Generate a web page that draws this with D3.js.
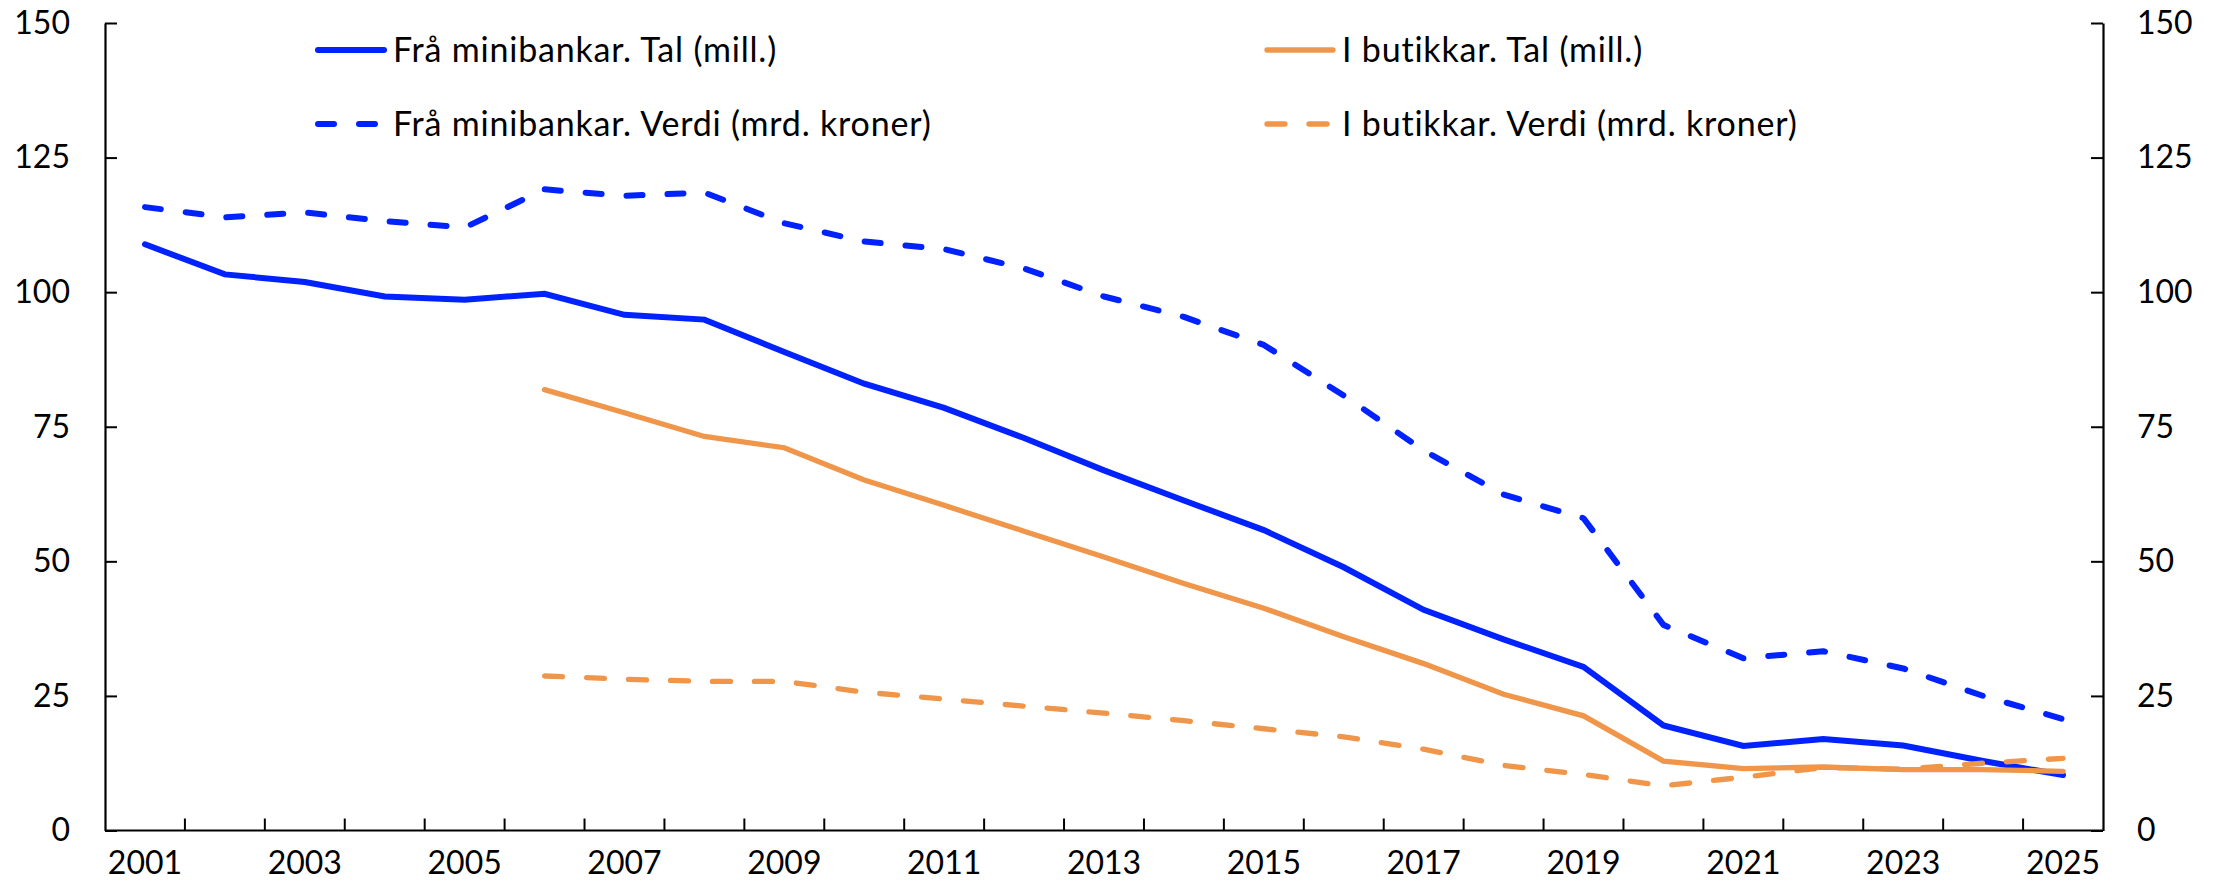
<!DOCTYPE html>
<html>
<head>
<meta charset="utf-8">
<script src="https://cdn.jsdelivr.net/npm/d3@7"></script>
<style>
  html, body { margin: 0; padding: 0; background: #fff; }
  svg { display: block; font-family: Lato, "Open Sans", sans-serif; }
</style>
</head>
<body>
<svg id="chart" width="2227" height="895"></svg>
<script>
// ---- Data ----
const years = [2001,2002,2003,2004,2005,2006,2007,2008,2009,2010,2011,2012,2013,2014,2015,2016,2017,2018,2019,2020,2021,2022,2023,2024,2025];
const atmCount   = [108.9,103.3,101.9,99.2,98.6,99.7,95.8,94.9,88.9,83.0,78.5,72.9,66.9,61.3,55.8,48.9,41.0,35.5,30.4,19.5,15.7,17.0,15.8,12.9,10.3];
const atmValue   = [115.8,113.9,114.8,113.2,112.0,119.1,117.9,118.5,112.8,109.4,108.0,104.4,99.2,95.4,90.2,80.8,70.6,62.4,58.0,38.2,32.0,33.3,30.1,25.0,20.7];
const storeCount = [null,null,null,null,null,81.9,77.6,73.2,71.1,65.1,60.4,55.6,50.8,45.9,41.3,36.0,31.0,25.3,21.3,12.9,11.5,11.8,11.3,11.3,11.0];
const storeValue = [null,null,null,null,null,28.7,28.1,27.7,27.7,25.7,24.4,23.1,21.8,20.4,18.9,17.4,15.1,12.1,10.4,8.3,9.9,11.7,11.4,12.5,13.4];
const yTicks = [0,25,50,75,100,125,150];
const xLabelYears = [2001,2003,2005,2007,2009,2011,2013,2015,2017,2019,2021,2023,2025];
const legendLabels = [
  "Frå minibankar. Tal (mill.)",
  "Frå minibankar. Verdi (mrd. kroner)",
  "I butikkar. Tal (mill.)",
  "I butikkar. Verdi (mrd. kroner)"
];

(function () {
// ---- Styles ----
const BLUE = "#0022ff";
const ORANGE = "#f0964b";
const FONT = 32;
const LFONT = 34;

const svg = d3.select("#chart");
const pL = 105, pR = 2103, pT = 23, pB = 830.5;

const x = d3.scaleBand().domain(years).range([pL, pR]).paddingInner(0).paddingOuter(0);
const y = d3.scaleLinear().domain([0, 150]).range([pB, pT]);
const cx = d => x(d) + x.bandwidth() / 2;

// Left axis
const gl = svg.append("g").attr("transform", `translate(${pL},0)`)
  .call(d3.axisLeft(y).tickValues(yTicks).tickSize(-12).tickSizeOuter(0).tickPadding(35));
// Right axis
const gr = svg.append("g").attr("transform", `translate(${pR},0)`)
  .call(d3.axisRight(y).tickValues(yTicks).tickSize(-12).tickSizeOuter(0).tickPadding(34));
// Bottom axis (labels at band centres)
const gb = svg.append("g").attr("transform", `translate(0,${pB})`)
  .call(d3.axisBottom(x).tickValues(xLabelYears).tickSize(0).tickSizeOuter(0).tickPadding(21));
gb.select(".domain").attr("d", `M${pL},0H${pR}`);
// Boundary ticks between categories
gb.selectAll("line.bt").data(years.slice(1)).enter().append("line")
  .attr("class", "bt")
  .attr("x1", d => x(d)).attr("x2", d => x(d))
  .attr("y1", 0).attr("y2", -12)
  .attr("stroke", "#000").attr("stroke-width", 2);

[gl, gr, gb].forEach(g => {
  g.selectAll(".domain").attr("stroke", "#000").attr("stroke-width", 2.2);
  g.selectAll(".tick line").attr("stroke", "#000").attr("stroke-width", 2);
  g.selectAll("text").attr("font-size", FONT).attr("fill", "#000").attr("font-family", "Lato, 'Open Sans', sans-serif");
});

// Lines
const series = [
  { vals: atmCount,   color: BLUE,   dash: null,      w: 6 },
  { vals: atmValue,   color: BLUE,   dash: "16,25",   w: 6 },
  { vals: storeCount, color: ORANGE, dash: null,      w: 5.3 },
  { vals: storeValue, color: ORANGE, dash: "18,24",   w: 5.3 }
];
const line = d3.line()
  .defined(d => d.v !== null)
  .x(d => cx(d.year))
  .y(d => y(d.v));

series.forEach(s => {
  const pts = years.map((yr, i) => ({ year: yr, v: s.vals[i] }));
  svg.append("path")
    .datum(pts)
    .attr("d", line)
    .attr("fill", "none")
    .attr("stroke", s.color)
    .attr("stroke-width", s.w)
    .attr("stroke-linejoin", s.dash ? "round" : "miter")
    .attr("stroke-linecap", "round")
    .attr("stroke-dasharray", s.dash);
});

// Legend
const legendPos = [
  { x: 318, y: 50 },
  { x: 318, y: 124 },
  { x: 1267, y: 50 },
  { x: 1267, y: 124 }
];
legendLabels.forEach((lab, i) => {
  const s = series[i];
  const p = legendPos[i];
  const g = svg.append("g").attr("transform", `translate(${p.x},${p.y})`);
  g.append("line")
    .attr("x1", 0).attr("x2", 66).attr("y1", 0).attr("y2", 0)
    .attr("stroke", s.color).attr("stroke-width", s.w)
    .attr("stroke-linecap", "round")
    .attr("stroke-dasharray", s.dash);
  g.append("text")
    .attr("x", 75).attr("y", 0).attr("dy", "0.35em")
    .attr("font-size", LFONT).attr("letter-spacing", "0.8px").attr("fill", "#000")
    .text(lab);
});
})();
</script>
</body>
</html>
